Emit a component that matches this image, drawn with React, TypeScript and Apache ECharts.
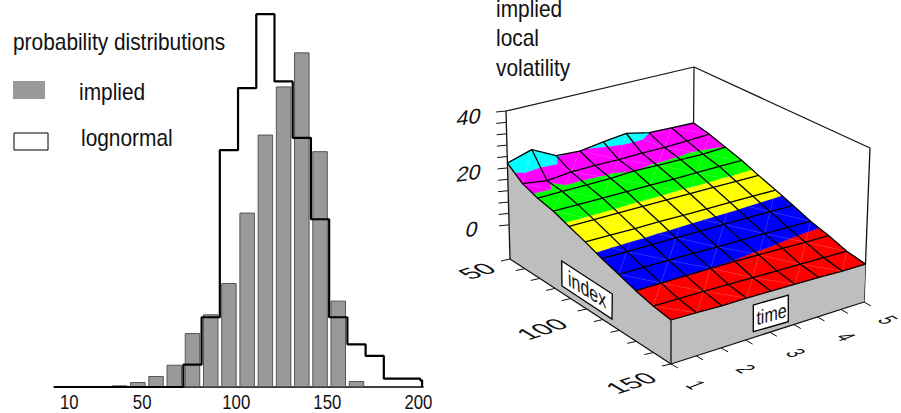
import React, { useEffect, useRef } from "react";
import * as echarts from "echarts";

// ---- left chart data ----
const binCenters = [35, 45, 55, 65, 75, 85, 95, 105, 115, 125, 135, 145, 155, 165];
const impliedValues = [0.1, 0.3, 0.66, 1.34, 3.25, 4.38, 6.26, 10.5, 15.2, 18.1, 20.15, 14.2, 5.2, 0.36];
const lognormalEdges = [-1, 70, 80, 90, 100, 110, 120, 130, 140, 150, 160, 170, 180, 190, 200, 201];
const lognormalValues = [0, 1.35, 4.2, 14.26, 18, 22.45, 18.4, 15, 10.1, 4.2, 2.57, 1.87, 0.5, 0.5, 0.4, 0];
const histTickLabels = ["10", "50", "100", "150", "200"];
const histTickPlaces = [7.4, 47.4, 99, 149, 199];

// ---- right chart data ----
const indexLabels = ["50", "100", "150"];
const timeLabels = ["1", "2", "3", "4", "5"];
const zLabels = ["40", "20", "0"];
const zTicks = [0, 4, 8, 12, 16, 20, 24, 28, 32, 36, 40];
const bandEdges = [4.7, 9.2, 13, 16.3, 19.8];
const bandColors = ["#ff0000", "#0000ff", "#ffff00", "#00ff00", "#ff00ff", "#00ffff"];
// rows: index 50..150 step 10, columns: time 1..5 step 0.5
const surfaceValues = [
  [21.7, 24.3, 20.0, 19.5, 20.7, 21.6, 19.8, 19.5, 19.2],
  [17.6, 16.4, 17.3, 17.4, 17.3, 17.5, 17.4, 17.6, 18.0],
  [15.7, 15.8, 15.8, 15.9, 16.3, 16.1, 16.0, 15.8, 16.2],
  [14.5, 14.4, 14.4, 14.4, 14.4, 14.3, 14.4, 14.4, 14.4],
  [12.5, 12.5, 12.5, 12.4, 12.4, 12.3, 12.3, 12.2, 12.1],
  [10.6, 10.5, 10.4, 10.4, 10.3, 10.2, 10.2, 10.1, 10.0],
  [8.4, 8.3, 8.3, 8.2, 8.1, 8.1, 8.0, 7.9, 7.8],
  [6.6, 6.5, 6.4, 6.3, 6.1, 6.0, 5.9, 5.7, 5.5],
  [4.7, 4.7, 4.7, 4.7, 4.6, 4.4, 4.2, 3.9, 3.8],
  [3.2, 3.1, 3.0, 2.8, 2.6, 2.4, 2.2, 2.0, 1.8],
  [2.3, 2.1, 1.8, 1.8, 1.6, 1.4, 1.2, 0.9, 0.8],
];

const Z_MIN = -12;
const Z_MAX = 40;
const FONT = "'Liberation Sans'";
const INK = "#111";
const GREY = "#bebebe";

type P = [number, number];

// projective map of the unit square onto a quad
function quadMap(p0: P, p1: P, p2: P, p3: P) {
  const dx1 = p1[0] - p2[0], dx2 = p3[0] - p2[0], sx = p0[0] - p1[0] + p2[0] - p3[0];
  const dy1 = p1[1] - p2[1], dy2 = p3[1] - p2[1], sy = p0[1] - p1[1] + p2[1] - p3[1];
  const det = dx1 * dy2 - dx2 * dy1;
  const g = (sx * dy2 - dx2 * sy) / det;
  const h = (dx1 * sy - sx * dy1) / det;
  const a = p1[0] - p0[0] + g * p1[0], b = p3[0] - p0[0] + h * p3[0];
  const d = p1[1] - p0[1] + g * p1[1], e = p3[1] - p0[1] + h * p3[1];
  return (u: number, v: number): P => {
    const w = g * u + h * v + 1;
    return [(a * u + b * v + p0[0]) / w, (d * u + e * v + p0[1]) / w];
  };
}
const baseMap = quadMap([510, 259], [671, 364], [864, 302], [693, 207]);
const topMap = quadMap([506, 111], [671, 204], [870, 148], [694, 67]);

function project(u: number, v: number, z: number): P {
  const b = baseMap(u, v), t = topMap(u, v);
  const k = (z - Z_MIN) / (Z_MAX - Z_MIN);
  return [b[0] + (t[0] - b[0]) * k, b[1] + (t[1] - b[1]) * k];
}

const ROWS = surfaceValues.length;
const COLS = surfaceValues[0].length;
const vert = (i: number, j: number) => project(i / (ROWS - 1), j / (COLS - 1), surfaceValues[i][j]);

type V = [number, number, number];
function clipBand(poly: V[], level: number, keepAbove: boolean): V[] {
  const out: V[] = [];
  for (let k = 0; k < poly.length; k++) {
    const a = poly[k], b = poly[(k + 1) % poly.length];
    const ia = keepAbove ? a[2] >= level : a[2] <= level;
    const ib = keepAbove ? b[2] >= level : b[2] <= level;
    if (ia) out.push(a);
    if (ia !== ib) {
      const t = (level - a[2]) / (b[2] - a[2]);
      out.push([a[0] + (b[0] - a[0]) * t, a[1] + (b[1] - a[1]) * t, level]);
    }
  }
  return out;
}

function textAffine(text: string, cx: number, cy: number, m: number[], fontSize = 20, fill = INK) {
  const [m11, m12, m21, m22] = m;
  const E = (m11 + m22) / 2, F = (m11 - m22) / 2, G = (m21 + m12) / 2, H = (m21 - m12) / 2;
  const Q = Math.hypot(E, H), R = Math.hypot(F, G);
  const a1 = Math.atan2(G, F), a2 = Math.atan2(H, E);
  const theta = (a2 - a1) / 2, phi = (a2 + a1) / 2;
  return {
    type: "group", x: cx, y: cy, rotation: -phi, scaleX: Q + R, scaleY: Q - R,
    children: [{
      type: "text", rotation: -theta,
      style: { text, align: "center", verticalAlign: "middle", fontFamily: FONT, fontSize, fill },
    }],
  };
}

const indexLabelPlaces = [[477, 271], [542, 329], [631, 383]];
const indexLabelForm = [1.25, 1.05, -0.42, 0.62];
const timeLabelPlaces = [[696, 385], [746, 369], [796, 353], [846, 337], [888, 320]];
const timeLabelForm = [0.66, -1.1, 0.42, 0.42];
const zLabelPlaces = [[469, 117], [469, 173], [472, 229]];
const zLabelForm = [1.08, -0.2, -0.15, 1.05];

function option(): any {
  const px = (api: any, p: P) => api.coord(p) as P;

  const renderFrame = (_: any, api: any) => {
    const c = (p: P) => px(api, p);
    const line = (a: P, b: P, w = 1.2) => ({
      type: "line",
      shape: { x1: c(a)[0], y1: c(a)[1], x2: c(b)[0], y2: c(b)[1] },
      style: { stroke: INK, lineWidth: w },
    });
    const left: P[] = [], front: P[] = [];
    for (let i = 0; i < ROWS; i++) left.push(vert(i, 0));
    left.push(baseMap(1, 0), baseMap(0, 0));
    for (let j = 0; j < COLS; j++) front.push(vert(ROWS - 1, j));
    front.push(baseMap(1, 1), baseMap(1, 0));
    const children: any[] = [
      line(topMap(0, 0), topMap(0, 1)),
      line(topMap(0, 1), topMap(1, 1)),
      line(topMap(0, 1), vert(0, COLS - 1)),
      line(topMap(1, 1), baseMap(1, 1), 1.3),
      { type: "polygon", shape: { points: left.map(c) }, style: { fill: GREY } },
      { type: "polygon", shape: { points: front.map(c) }, style: { fill: GREY } },
      line(topMap(0, 0), baseMap(0, 0), 1.3),
      line(baseMap(0, 0), baseMap(1, 0), 1.3),
      line(baseMap(1, 0), baseMap(1, 1), 1.3),
      line(vert(ROWS - 1, 0), baseMap(1, 0), 1.3),
    ];
    zTicks.forEach((z) => {
      const a = project(0, 0, z);
      children.push(line(a, [a[0] - 10, a[1] + 1], 1));
    });
    for (let i = 0; i < ROWS; i++) {
      const a = baseMap(i / (ROWS - 1), 0);
      children.push(line(a, [a[0] - 9, a[1] + 2], 1));
    }
    for (let j = 0; j < COLS; j++) {
      const a = baseMap(1, j / (COLS - 1));
      children.push(line(a, [a[0] + 7, a[1] + 4], 1));
    }
    return { type: "group", children };
  };

  const cells: number[][] = [];
  for (let i = 0; i < ROWS - 1; i++) for (let j = 0; j < COLS - 1; j++) cells.push([i, j]);

  const renderCell = (params: any, api: any) => {
    const [i, j] = cells[params.dataIndex];
    const tag = (r: number, s: number): V => {
      const q = vert(r, s);
      return [q[0], q[1], surfaceValues[r][s]];
    };
    const a = tag(i, j), b = tag(i, j + 1), d = tag(i + 1, j + 1), e = tag(i + 1, j);
    const steep = (i + j) % 2 === 0;
    const tris: V[][] = steep ? [[a, b, e], [b, d, e]] : [[a, b, d], [a, d, e]];
    const children: any[] = [];
    tris.forEach((tri) => {
      bandColors.forEach((color, k) => {
        let poly = tri;
        if (k > 0) poly = clipBand(poly, bandEdges[k - 1], true);
        if (k < bandEdges.length && poly.length) poly = clipBand(poly, bandEdges[k], false);
        if (poly.length >= 3) {
          children.push({
            type: "polygon",
            shape: { points: poly.map((p) => px(api, [p[0], p[1]])) },
            style: { fill: color, stroke: color, lineWidth: 0.4 },
          });
        }
      });
    });
    const s0 = steep ? px(api, [b[0], b[1]]) : px(api, [a[0], a[1]]);
    const s1 = steep ? px(api, [e[0], e[1]]) : px(api, [d[0], d[1]]);
    children.push({
      type: "line",
      shape: { x1: s0[0], y1: s0[1], x2: s1[0], y2: s1[1] },
      style: { stroke: "rgba(255,255,255,0.2)", lineWidth: 0.5 },
    });
    return { type: "group", children };
  };

  const renderMesh = (_: any, api: any) => {
    const children: any[] = [];
    const add = (pts: P[]) =>
      children.push({
        type: "polyline",
        shape: { points: pts.map((p) => px(api, p)) },
        style: { stroke: "#000", lineWidth: 1.3, fill: "none", lineJoin: "round" },
      });
    for (let i = 0; i < ROWS; i++) {
      const r: P[] = [];
      for (let j = 0; j < COLS; j++) r.push(vert(i, j));
      add(r);
    }
    for (let j = 0; j < COLS; j++) {
      const r: P[] = [];
      for (let i = 0; i < ROWS; i++) r.push(vert(i, j));
      add(r);
    }
    return { type: "group", children };
  };

  const tagBox = (pts: P[], api: any) => ({
    type: "polygon",
    shape: { points: pts.map((p) => px(api, p)) },
    style: { fill: "#fff", stroke: "#000", lineWidth: 1.3 },
  });

  const renderLabels = (_: any, api: any) => {
    const children: any[] = [];
    indexLabels.forEach((t, k) => children.push(textAffine(t, indexLabelPlaces[k][0], indexLabelPlaces[k][1], indexLabelForm)));
    timeLabels.forEach((t, k) => children.push(textAffine(t, timeLabelPlaces[k][0], timeLabelPlaces[k][1], timeLabelForm)));
    zLabels.forEach((t, k) => children.push(textAffine(t, zLabelPlaces[k][0], zLabelPlaces[k][1], zLabelForm)));
    children.push(tagBox([[561.7, 261], [612.3, 294], [612, 319], [562, 286]], api));
    children.push(textAffine("index", 587, 289, [0.8, 0.05, 0.49, 1.1]));
    children.push(tagBox([[753.3, 305], [788.3, 295], [788.3, 321.7], [753.3, 331.7]], api));
    children.push(textAffine("time", 771.5, 314, [0.8, 0, -0.22, 1.0]));
    return { type: "group", children };
  };

  const renderHistTicks = (params: any, api: any) => {
    const k = params.dataIndex;
    const p = api.coord([histTickPlaces[k], 0]);
    return textAffine(histTickLabels[k], p[0], p[1] + 15, [0.84, 0, 0, 1]);
  };

  const heading = (text: string, x: number, y: number, scaleX = 0.87) => ({
    type: "text", x, y, scaleX,
    style: { text, fontFamily: FONT, fontSize: 24, fill: INK, verticalAlign: "middle", align: "left" },
  });

  return {
    animation: false,
    backgroundColor: "#fff",
    grid: [
      { left: 54, top: 5, width: 369, height: 382 },
      { left: 0, top: 0, width: 901, height: 413 },
    ],
    xAxis: [
      {
        type: "value", gridIndex: 0, min: -1, max: 201.5,
        splitLine: { show: false },
        axisTick: { show: false },
        axisLabel: { show: false },
        axisLine: { show: true, onZero: false, lineStyle: { color: "#000", width: 1.5 } },
      },
      { type: "value", gridIndex: 1, min: 0, max: 901, show: false },
    ],
    yAxis: [
      { type: "value", gridIndex: 0, min: 0, max: 23, show: false },
      { type: "value", gridIndex: 1, min: 0, max: 413, inverse: true, show: false },
    ],
    graphic: [
      heading("probability distributions", 13, 42),
      heading("implied", 79, 92),
      heading("lognormal", 81, 138),
      { type: "rect", shape: { x: 13, y: 81, width: 32, height: 18 }, style: { fill: "#999999" } },
      { type: "rect", shape: { x: 14, y: 133, width: 34, height: 17 }, style: { fill: "#fff", stroke: "#000", lineWidth: 1 } },
      heading("implied", 496, 9),
      heading("local", 496, 38),
      heading("volatility", 496, 68),
    ],
    series: [
      {
        type: "bar", xAxisIndex: 0, yAxisIndex: 0, barWidth: 15.5,
        data: binCenters.map((x, k) => [x, impliedValues[k]]),
        itemStyle: { color: "#999999", borderColor: "#555555", borderWidth: 1 },
      },
      {
        type: "line", xAxisIndex: 0, yAxisIndex: 0, step: "end", showSymbol: false, clip: false, z: 5,
        data: lognormalEdges.map((x, k) => [x, lognormalValues[k]]),
        lineStyle: { color: "#000", width: 2.2 },
      },
      {
        type: "custom", coordinateSystem: "cartesian2d", xAxisIndex: 0, yAxisIndex: 0, clip: false, silent: true,
        data: histTickLabels.map((_, k) => [histTickPlaces[k], 0]),
        renderItem: renderHistTicks,
      },
      {
        type: "custom", coordinateSystem: "cartesian2d", xAxisIndex: 1, yAxisIndex: 1, clip: false, silent: true,
        data: [[0, 0]], renderItem: renderFrame,
      },
      {
        type: "custom", coordinateSystem: "cartesian2d", xAxisIndex: 1, yAxisIndex: 1, clip: false, silent: true,
        data: cells, renderItem: renderCell,
      },
      {
        type: "custom", coordinateSystem: "cartesian2d", xAxisIndex: 1, yAxisIndex: 1, clip: false, silent: true,
        data: [[0, 0]], renderItem: renderMesh,
      },
      {
        type: "custom", coordinateSystem: "cartesian2d", xAxisIndex: 1, yAxisIndex: 1, clip: false, silent: true,
        data: [[0, 0]], renderItem: renderLabels,
      },
    ],
  };
}

export default function App() {
  const ref = useRef<HTMLDivElement>(null);
  useEffect(() => {
    document.body.style.margin = "0";
    const chart = echarts.init(ref.current!, undefined, { renderer: "svg" });
    chart.setOption(option());
    return () => chart.dispose();
  }, []);
  return <div ref={ref} style={{ width: 901, height: 413 }} />;
}
